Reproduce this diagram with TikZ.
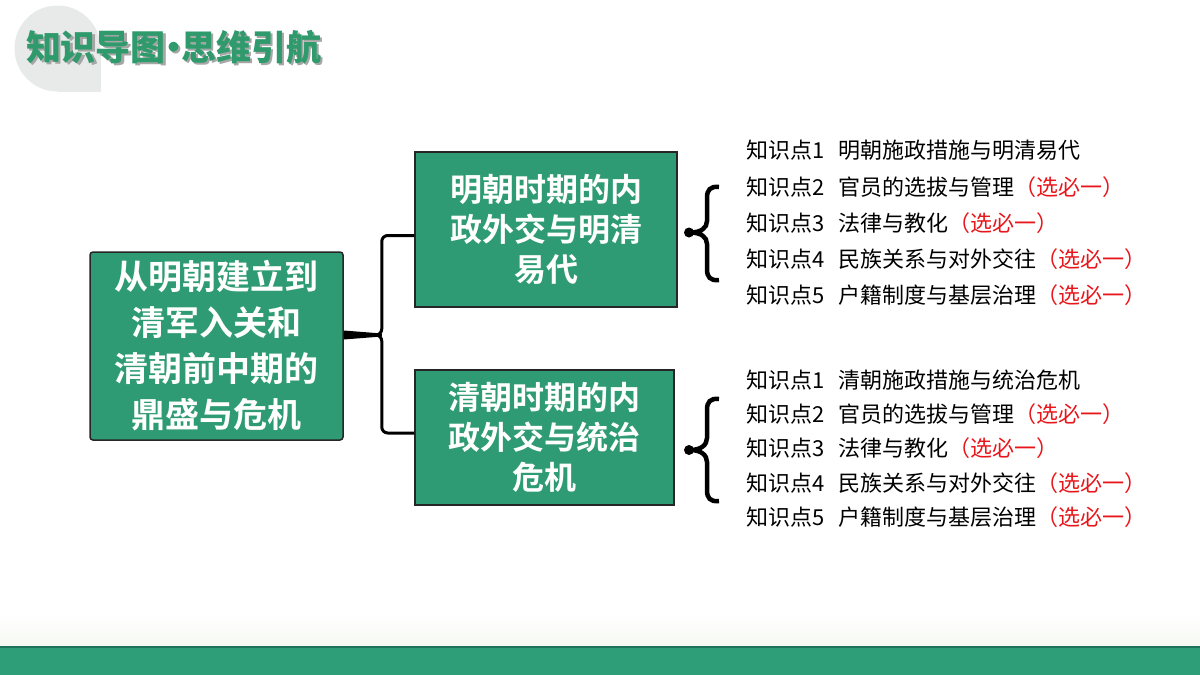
\documentclass[tikz,border=0pt]{standalone}
\usepackage{fontspec}
\usepackage{tikz}
\usetikzlibrary{calc}
\setmainfont{Noto Sans CJK SC}[BoldFont={Noto Sans CJK SC Bold}]
\newfontfamily\titlefont{Noto Sans CJK SC Black}
\definecolor{MindGreen}{HTML}{2E9B74}
\definecolor{BandGreen}{HTML}{2E9E78}
\definecolor{BandLine}{HTML}{1F7358}
\definecolor{TitleGreen}{HTML}{2F9A6C}
\definecolor{BubbleGray}{HTML}{E7EAE9}
\definecolor{FadeCream}{HTML}{F6F9F1}
\definecolor{NoteRed}{HTML}{E8161B}

\begin{document}
\begin{tikzpicture}[x=1pt, y=-1pt,
    topic/.style={draw=black!85, line width=1.5pt, fill=MindGreen, text=white, align=center, inner sep=2pt},
    point/.style={anchor=west, inner sep=0pt, font=\fontsize{22}{22}\selectfont},
    link/.style={line width=3pt, rounded corners=6pt},
    curly/.style={line width=4.5pt}]
    \useasboundingbox (0,0) rectangle (1200,675);
    \fill[white] (0,0) rectangle (1200,675);

    % title
    \fill[BubbleGray] (57.5,48.5) circle[radius=43pt];
    \fill[BubbleGray] (57.5,48.5) rectangle (100.5,91.5);
    \node[text=black!35, font=\titlefont\fontsize{35}{35}\selectfont] (titleshadow) at (175.5,49) {知识导图\kern-10pt·\kern-10pt思维引航};
    \node[text=TitleGreen, font=\titlefont\fontsize{35}{35}\selectfont] (title) at (173.5,47) {知识导图\kern-10pt·\kern-10pt思维引航};

    % topics
    \node (main) [topic, rounded corners=3pt, minimum width=253pt, minimum height=188pt, font=\bfseries\fontsize{34}{46}\selectfont] at (216.5,346) {从明朝建立到\\清军入关和\\清朝前中期的\\鼎盛与危机};
    \node (ming) [topic, minimum width=262pt, minimum height=155pt, font=\bfseries\fontsize{32}{40}\selectfont] at (546,229.5) {明朝时期的内\\政外交与明清\\易代};
    \node (qing) [topic, minimum width=259pt, minimum height=135pt, font=\bfseries\fontsize{32}{40}\selectfont] at (544.5,437.5) {清朝时期的内\\政外交与统治\\危机};

    % fork
    \coordinate (fork) at ($(main.east)+(38,-11)$);
    \fill ($(main.east)+(0,-15.5)$) -- ($(fork)+(0,-1.5)$) -- ($(fork)+(0,1.5)$) -- ($(main.east)+(0,-6.5)$) -- cycle;
    \draw[link] ([yshift=11pt]main.east) -- (fork) |- ([yshift=-6pt]ming.west);
    \draw[link] ([yshift=11pt]main.east) -- (fork) |- ([yshift=4.5pt]qing.west);

    % knowledge points, Ming
    \node[point] (ming1) at (746,150) {知识点1\hspace{14pt}明朝施政措施与明清易代};
    \node[point] (ming2) at (746,187) {知识点2\hspace{14pt}官员的选拔与管理\textcolor{NoteRed}{（选必一）}};
    \node[point] (ming3) at (746,223) {知识点3\hspace{14pt}法律与教化\textcolor{NoteRed}{（选必一）}};
    \node[point] (ming4) at (746,259) {知识点4\hspace{14pt}民族关系与对外交往\textcolor{NoteRed}{（选必一）}};
    \node[point] (ming5) at (746,295) {知识点5\hspace{14pt}户籍制度与基层治理\textcolor{NoteRed}{（选必一）}};
    \draw[curly] (719,187) .. controls (710,186) and (707,190) .. (707,198) -- (707,221)
        .. controls (707,228) and (701,232.5) .. (690,232.5)
        .. controls (701,232.5) and (707,237) .. (707,244) -- (707,269)
        .. controls (707,277) and (710,281) .. (719,280);
    \fill (689,232.5) circle[radius=5pt];

    % knowledge points, Qing
    \node[point] (qing1) at (746,380) {知识点1\hspace{14pt}清朝施政措施与统治危机};
    \node[point] (qing2) at (746,414) {知识点2\hspace{14pt}官员的选拔与管理\textcolor{NoteRed}{（选必一）}};
    \node[point] (qing3) at (746,448) {知识点3\hspace{14pt}法律与教化\textcolor{NoteRed}{（选必一）}};
    \node[point] (qing4) at (746,483) {知识点4\hspace{14pt}民族关系与对外交往\textcolor{NoteRed}{（选必一）}};
    \node[point] (qing5) at (746,517) {知识点5\hspace{14pt}户籍制度与基层治理\textcolor{NoteRed}{（选必一）}};
    \draw[curly] (719,399) .. controls (710,398) and (707,402) .. (707,410) -- (707,438)
        .. controls (707,445) and (701,450) .. (690,450)
        .. controls (701,450) and (707,455) .. (707,462) -- (707,490)
        .. controls (707,498) and (710,502) .. (719,501);
    \fill (689,450) circle[radius=5pt];

    % bottom band
    \shade[top color=white, bottom color=FadeCream] (0,615) rectangle (1200,646);
    \fill[BandGreen] (0,647) rectangle (1200,675);
    \draw[BandLine, line width=1.5pt] (0,647) -- (1200,647);
\end{tikzpicture}
\end{document}
